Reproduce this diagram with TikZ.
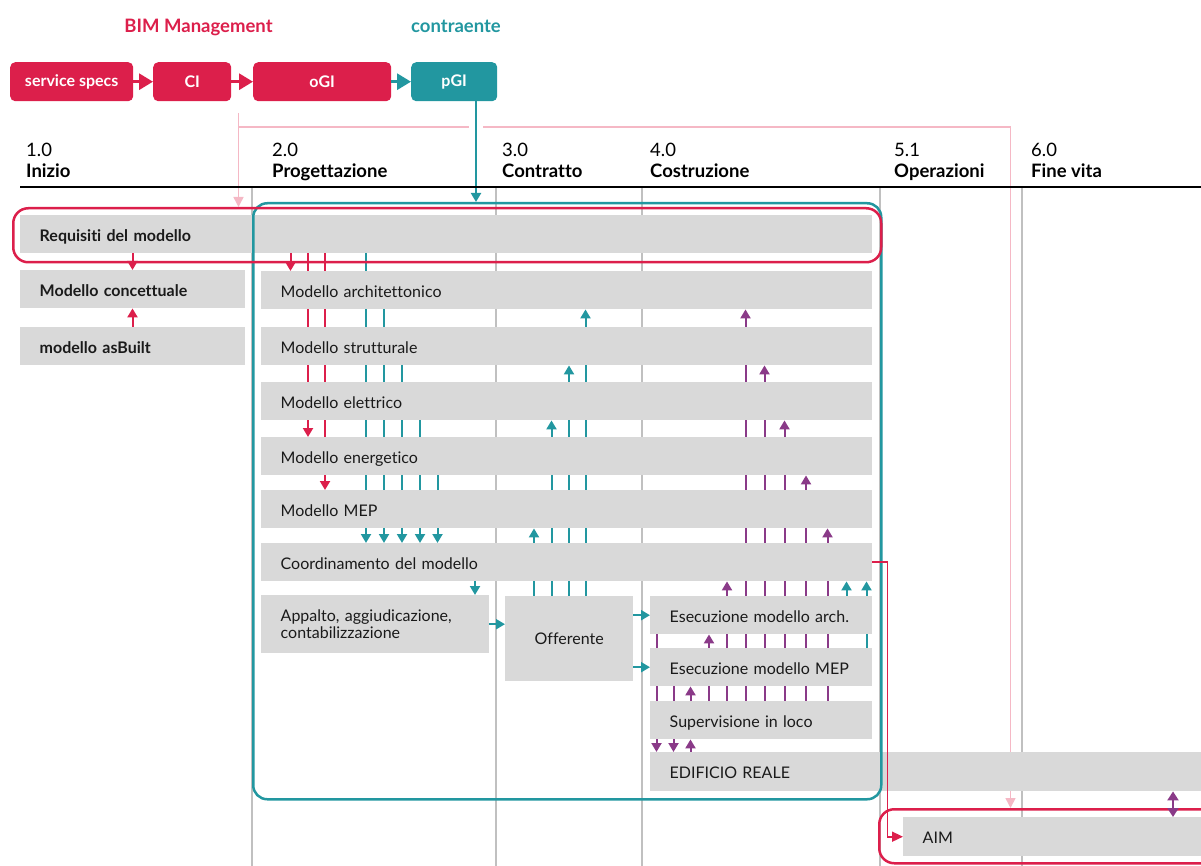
\documentclass[tikz,border=0pt]{standalone}
\usepackage{fontspec}
\setmainfont{Lato}[Ligatures=NoCommon]
\usetikzlibrary{arrows.meta}

\definecolor{bimred}{HTML}{DC1F4B}
\definecolor{bimteal}{HTML}{2297A0}
\definecolor{bimpurple}{HTML}{8A3A88}
\definecolor{bimpink}{HTML}{F5B8C5}
\definecolor{boxgrey}{HTML}{D9D9D9}
\definecolor{sepgrey}{HTML}{C0C0C0}
\definecolor{inkdark}{HTML}{1A1A1A}

\pgfdeclarelayer{grid}
\pgfdeclarelayer{links}
\pgfsetlayers{grid,links,main}

\begin{document}
\begin{tikzpicture}[x=1pt,y=-1pt,
  topbox/.style={fill=#1, rounded corners=5pt, anchor=north west, minimum height=39pt,
    inner sep=0pt, text=white, font=\bfseries\fontsize{16}{18}\selectfont},
  boxbase/.style={fill=boxgrey, anchor=north west, inner xsep=19.5pt, inner ysep=0pt,
    align=left, text=inkdark, font=\fontsize{16}{17.5}\selectfont},
  gbox/.style={boxbase, minimum height=38pt, text height=14pt, text depth=0pt},
  bbox/.style={gbox, font=\bfseries\fontsize{16}{17.5}\selectfont},
  phnum/.style={anchor=base west, inner sep=0pt, font=\fontsize{18.5}{20}\selectfont},
  phname/.style={anchor=base west, inner sep=0pt, font=\bfseries\fontsize{18.5}{20}\selectfont},
  headlabel/.style={anchor=base, inner sep=0pt, font=\bfseries\fontsize{18.5}{20}\selectfont},
  frame/.style={draw=#1, line width=2.5pt, anchor=north west, inner sep=0pt},
  link/.style={line width=2pt, -{Triangle[length=9pt,width=10pt]}},
  redlink/.style={link, bimred},
  teallink/.style={link, bimteal},
  purplink/.style={link, bimpurple},
  biglink/.style={line width=3pt, #1, -{Triangle[length=14pt,width=16pt]}},
  pinklink/.style={line width=1.5pt, bimpink, -{Triangle[length=10pt,width=10pt]}},
]
\useasboundingbox (0,0) rectangle (1201,866);

% ---------- header: responsibilities and information chain ----------
\node[headlabel, text=bimred] (bimlabel) at (198.5,33) {BIM Management};
\node[headlabel, text=bimteal] (ctrlabel) at (456,33) {contraente};

\node[topbox=bimred, minimum width=123pt] (ss) at (10,62) {service specs};
\node[topbox=bimred, minimum width=78pt] (ci) at (153,62) {CI};
\node[topbox=bimred, minimum width=138pt] (ogi) at (253,62) {oGI};
\node[topbox=bimteal, minimum width=86pt] (pgi) at (411,62) {pGI};

\draw[biglink=bimred] (ss.east) -- (ci.west);
\draw[biglink=bimred] (ci.east) -- (ogi.west);
\draw[biglink=bimteal] (ogi.east) -- (pgi.west);

% ---------- phases ----------
\node[phnum] (n1) at (26,157) {1.0};   \node[phname] (h1) at (26,178) {Inizio};
\node[phnum] (n2) at (272,157) {2.0};  \node[phname] (h2) at (272,178) {Progettazione};
\node[phnum] (n3) at (502,157) {3.0};  \node[phname] (h3) at (502,178) {Contratto};
\node[phnum] (n4) at (650,157) {4.0};  \node[phname] (h4) at (650,178) {Costruzione};
\node[phnum] (n5) at (894,157) {5.1};  \node[phname] (h5) at (894,178) {Operazioni};
\node[phnum] (n6) at (1031,157) {6.0}; \node[phname] (h6) at (1031,178) {Fine vita};

\draw[line width=2pt] (20,187.5) -- (1201,187.5);

\begin{pgfonlayer}{grid}
  \foreach \x in {252,496,642,880,1022}
    \draw[sepgrey, line width=2pt] (\x,188.5) -- (\x,866);
\end{pgfonlayer}

% ---------- models and activities ----------
\node[bbox, text width=813pt] (req) at (20,215) {Requisiti del modello};
\node[bbox, text width=186pt] (conc) at (20,270) {Modello concettuale};
\node[bbox, text width=186pt] (asb) at (20,327) {modello asBuilt};

\node[gbox, text width=572pt] (arch) at (261,271) {Modello architettonico};
\node[gbox, text width=572pt] (strut) at (261,327) {Modello strutturale};
\node[gbox, text width=572pt] (elet) at (261,382) {Modello elettrico};
\node[gbox, text width=572pt] (ener) at (261,437) {Modello energetico};
\node[gbox, text width=572pt] (mep) at (261,490) {Modello MEP};
\node[gbox, text width=572pt] (coord) at (261,543) {Coordinamento del modello};

\node[boxbase, text width=189pt, minimum height=58pt] (app) at (261,595)
  {Appalto, aggiudicazione,\\contabilizzazione};
\node[boxbase, inner xsep=0pt, align=center, minimum width=128pt, minimum height=85pt] (off)
  at (505,596) {Offerente};

\node[gbox, text width=183pt] (esa) at (650,596) {Esecuzione modello arch.};
\node[gbox, text width=183pt] (esm) at (650,648) {Esecuzione modello MEP};
\node[gbox, text width=183pt] (sup) at (650,701) {Supervisione in loco};
\node[gbox, text width=512pt, minimum height=39pt] (edif) at (650,752) {EDIFICIO REALE};
\node[gbox, text width=259pt, minimum height=39pt] (aim) at (903,817) {AIM};

% ---------- connector columns ----------
\foreach \c/\x in {k132/132.5,k290/290.5,k308/308,k325/325,
                   t366/366,t384/384,t402/402,t420/420,t437/437.5,t475/475,
                   o534/534,o551/551.5,o569/569,o585/585.5,
                   e656/656.5,e673/673.5,e691/690.5,
                   p709/709,p727/727,p745/745.5,p764/764.5,p785/784.5,p806/806,p827/827.5,
                   q846/846.5,q866/866.5,pgcol/476,aimcol/1173,pinkcol/1010.5}
  \coordinate (\c) at (\x,0);
\coordinate (pinkstart) at (238.5,113);
\coordinate (pinkjoin) at (238.5,127);
\coordinate (gapA) at (476,119);
\coordinate (gapB) at (476,135);

% ---------- frames ----------
\node[frame=bimteal, rounded corners=14pt, minimum width=628pt, minimum height=596pt]
  (tealframe) at (252,202) {};
\node[frame=bimred, rounded corners=15pt, minimum width=868pt, minimum height=54pt]
  (reqframe) at (12,207) {};
\node[frame=bimred, rounded corners=15pt, minimum width=345pt, minimum height=54pt]
  (aimframe) at (878,808) {};

\begin{pgfonlayer}{links}
  % requirements flowing down
  \draw[pinklink] (pinkstart) -- (reqframe.north -| pinkstart);
  \draw[pinklink] (pinkjoin) -| (aimframe.north -| pinkcol);
  \draw[white, line width=14pt] (gapA) -- (gapB);
  \draw[teallink] (pgi.south -| pgcol) -- (tealframe.north -| pgcol);

  \draw[redlink] (req.south -| k132) -- (conc.north -| k132);
  \draw[redlink] (asb.north -| k132) -- (conc.south -| k132);
  \draw[redlink] (req.south -| k290) -- (arch.north -| k290);
  \draw[redlink] (req.south -| k308) -- (ener.north -| k308);
  \draw[redlink] (req.south -| k325) -- (mep.north -| k325);

  % design models into coordination
  \draw[teallink] (req.south -| t366) -- (coord.north -| t366);
  \draw[teallink] (arch.south -| t384) -- (coord.north -| t384);
  \draw[teallink] (strut.south -| t402) -- (coord.north -| t402);
  \draw[teallink] (elet.south -| t420) -- (coord.north -| t420);
  \draw[teallink] (ener.south -| t437) -- (coord.north -| t437);
  \draw[teallink] (coord.south -| t475) -- (app.north -| t475);

  % tender
  \draw[teallink] (app.east) -- (off.west |- app.east);
  \draw[teallink] (off.east |- esa.west) -- (esa.west);
  \draw[teallink] (off.east |- esm.west) -- (esm.west);
  \draw[teallink] (off.north -| o534) -- (mep.south -| o534);
  \draw[teallink] (off.north -| o551) -- (elet.south -| o551);
  \draw[teallink] (off.north -| o569) -- (strut.south -| o569);
  \draw[teallink] (off.north -| o585) -- (arch.south -| o585);

  % construction feedback
  \draw[purplink] (sup.north -| p709) -- (esa.south -| p709);
  \draw[purplink] (sup.north -| p727) -- (coord.south -| p727);
  \draw[purplink] (sup.north -| p745) -- (arch.south -| p745);
  \draw[purplink] (sup.north -| p764) -- (strut.south -| p764);
  \draw[purplink] (sup.north -| p785) -- (elet.south -| p785);
  \draw[purplink] (sup.north -| p806) -- (ener.south -| p806);
  \draw[purplink] (sup.north -| p827) -- (mep.south -| p827);
  \draw[teallink] (esa.north -| q846) -- (coord.south -| q846);
  \draw[teallink] (esm.north -| q866) -- (coord.south -| q866);

  \draw[purplink] (esa.south -| e656) -- (edif.north -| e656);
  \draw[purplink] (esm.south -| e673) -- (edif.north -| e673);
  \draw[purplink] (edif.north -| e691) -- (sup.south -| e691);
  \draw[purplink] (sup.north -| e691) -- (esm.south -| e691);
\end{pgfonlayer}

% handover to the asset information model
\draw[bimred, line width=1.6pt, -{Triangle[length=11pt,width=10pt]}]
  (coord.east) -- ++(15,0) |- (aim.west);
\draw[bimpurple, line width=2pt, {Triangle[length=9pt,width=11pt]}-{Triangle[length=9pt,width=11pt]}]
  (edif.south -| aimcol) -- (aim.north -| aimcol);

\end{tikzpicture}
\end{document}
